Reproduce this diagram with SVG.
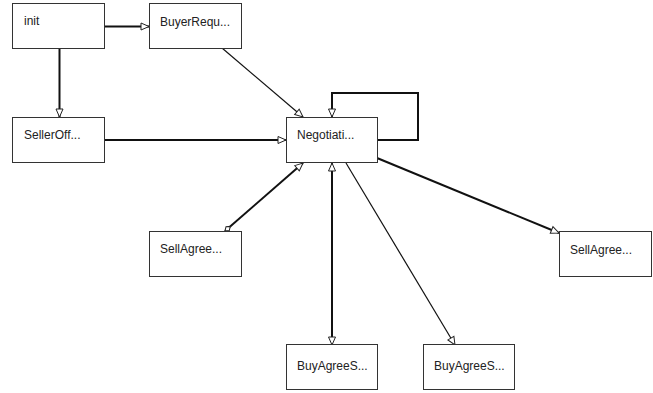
<svg xmlns="http://www.w3.org/2000/svg" width="653" height="393" viewBox="0 0 653 393">
<style>
.box rect{fill:#fff;stroke:#333;stroke-width:1}
.box text{font-family:"Liberation Sans",Arial,sans-serif;font-size:12px;fill:#222}
.c{fill:none;stroke:#111}
.thick{stroke-width:2}
.thin{stroke-width:1.2}
</style>
<defs>
<marker id="a" markerUnits="userSpaceOnUse" markerWidth="10" markerHeight="10" refX="8" refY="4" orient="auto-start-reverse" viewBox="-1 -1 10 10">
<path d="M0,0.5 L8,4 L0,7.5 z" fill="#fff" stroke="#222" stroke-width="1"/>
</marker>
<marker id="d" markerUnits="userSpaceOnUse" markerWidth="10" markerHeight="10" refX="7" refY="3" orient="auto-start-reverse" viewBox="-1 -1 10 10">
<path d="M0,3 L3.5,0.5 L7,3 L3.5,5.5 z" fill="#fff" stroke="#222" stroke-width="1"/>
</marker>
</defs>
<rect width="653" height="393" fill="#fff"/>
<g id="connectors">
<path class="c thick" d="M104,26.5 H149" marker-end="url(#a)"/>
<path class="c thick" d="M59.5,48 V117" marker-end="url(#a)"/>
<path class="c thin" d="M222,48 L303,117" marker-end="url(#a)"/>
<path class="c thick" d="M104,140 H286" marker-end="url(#a)"/>
<path class="c thick" d="M377,140 H418 V93 H332 V117" marker-end="url(#a)"/>
<path class="c thick" d="M225,231 L303,163" marker-start="url(#d)" marker-end="url(#a)"/>
<path class="c thick" d="M332,345 V163" marker-start="url(#a)" marker-end="url(#a)"/>
<path class="c thin" d="M346,163 L455,345" marker-end="url(#a)"/>
<path class="c thick" d="M377,158 L559,233" marker-end="url(#a)"/>
</g>
<g id="init" class="box"><rect x="12.5" y="3.5" width="92" height="45"/><text x="24" y="25">init</text></g>
<g id="BuyerRequ" class="box"><rect x="149.5" y="3.5" width="92" height="45"/><text x="160" y="26">BuyerRequ...</text></g>
<g id="SellerOff" class="box"><rect x="12.5" y="117.5" width="92" height="45"/><text x="24" y="139">SellerOff...</text></g>
<g id="Negotiati" class="box"><rect x="286.5" y="117.5" width="91" height="45"/><text x="297" y="139">Negotiati...</text></g>
<g id="SellAgree1" class="box"><rect x="149.5" y="231.5" width="92" height="45"/><text x="160" y="253">SellAgree...</text></g>
<g id="SellAgree2" class="box"><rect x="559.5" y="231.5" width="92" height="45"/><text x="570" y="254">SellAgree...</text></g>
<g id="BuyAgreeS1" class="box"><rect x="286.5" y="344.5" width="91" height="45"/><text x="297" y="370">BuyAgreeS...</text></g>
<g id="BuyAgreeS2" class="box"><rect x="423.5" y="344.5" width="91" height="45"/><text x="434" y="370">BuyAgreeS...</text></g>
</svg>
